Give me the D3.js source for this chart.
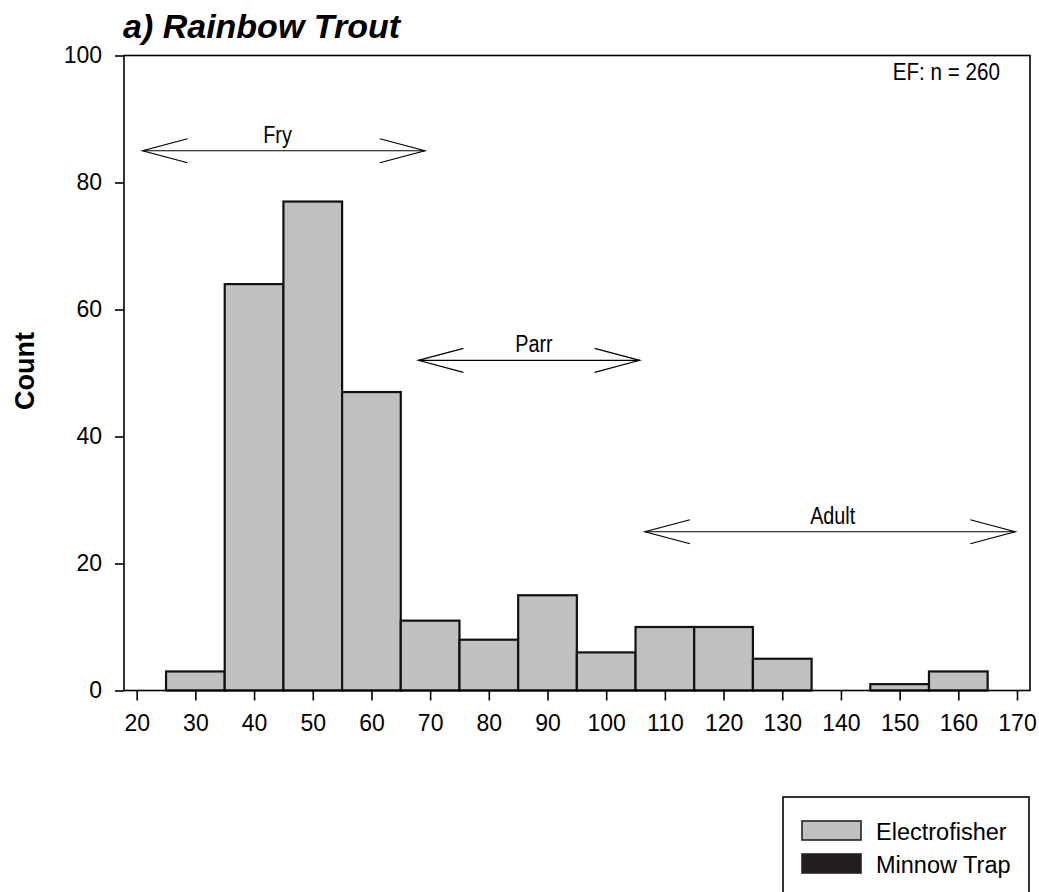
<!DOCTYPE html>
<html>
<head>
<meta charset="utf-8">
<script src="https://cdn.jsdelivr.net/npm/d3@7"></script>
<style>
  html, body { margin: 0; padding: 0; background: #ffffff; }
  svg { display: block; }
</style>
</head>
<body>
<svg id="chart" width="1039" height="892"></svg>
<script>
// ---- data ----
const binStarts = [25, 35, 45, 55, 65, 75, 85, 95, 105, 115, 125, 135, 145, 155];
const binWidth = 10;
const electrofisher = [3, 64, 77, 47, 11, 8, 15, 6, 10, 10, 5, 0, 1, 3];
const minnowTrap = [0, 0, 0, 0, 0, 0, 0, 0, 0, 0, 0, 0, 0, 0];
const xTicks = [20, 30, 40, 50, 60, 70, 80, 90, 100, 110, 120, 130, 140, 150, 160, 170];
const yTicks = [0, 20, 40, 60, 80, 100];
const stageLabels = ["Fry", "Parr", "Adult"];
const stageStart = [21, 68, 106.6];
const stageEnd = [69.1, 105.7, 169.7];
const stageCount = [85, 52, 25];
const stageLabelX = [44, 87.7, 138.6];
const titleText = "a) Rainbow Trout";
const yTitle = "Count";
const nText = "EF: n = 260";
const legendNames = ["Electrofisher", "Minnow Trap"];
const legendColors = ["#c0c0c0", "#231f20"];

// ---- layout ----
const svg = d3.select("#chart");
const FONT = "'Liberation Sans', Arial, Helvetica, sans-serif";
const frame = { left: 124, right: 1030, top: 55.5, bottom: 690.5 };
const NARROW_SCALE = 0.86;

const x = d3.scaleLinear().domain([20, 170]).range([136.7, 1017]);
const y = d3.scaleLinear().domain([0, 100]).range([frame.bottom, frame.top]);

// bars
const barData = binStarts.map((s, i) => ({ s, ef: electrofisher[i], mt: minnowTrap[i] }));
svg.append("g").selectAll("rect.ef")
  .data(barData.filter(d => d.ef > 0))
  .join("rect")
  .attr("x", d => x(d.s))
  .attr("y", d => y(d.ef))
  .attr("width", d => x(d.s + binWidth) - x(d.s))
  .attr("height", d => y(0) - y(d.ef))
  .attr("fill", legendColors[0])
  .attr("stroke", "#111")
  .attr("stroke-width", 2.2);

svg.append("g").selectAll("rect.mt")
  .data(barData.filter(d => d.mt > 0))
  .join("rect")
  .attr("x", d => x(d.s))
  .attr("y", d => y(d.mt))
  .attr("width", d => x(d.s + binWidth) - x(d.s))
  .attr("height", d => y(0) - y(d.mt))
  .attr("fill", legendColors[1])
  .attr("stroke", "#111")
  .attr("stroke-width", 2.2);

// frame
svg.append("rect")
  .attr("x", frame.left).attr("y", frame.top)
  .attr("width", frame.right - frame.left).attr("height", frame.bottom - frame.top)
  .attr("fill", "none").attr("stroke", "#000").attr("stroke-width", 1.6);

// axes
const xAxis = d3.axisBottom(x).tickValues(xTicks).tickSize(10).tickPadding(14).tickSizeOuter(0);
const gx = svg.append("g").attr("transform", `translate(0,${frame.bottom})`).call(xAxis);
gx.select(".domain").remove();
gx.selectAll("line").attr("stroke", "#000").attr("stroke-width", 1.6);
gx.selectAll("text").attr("font-family", FONT).attr("font-size", 23).attr("fill", "#000");

const yAxis = d3.axisLeft(y).tickValues(yTicks).tickSize(9).tickPadding(13).tickSizeOuter(0);
const gy = svg.append("g").attr("transform", `translate(${frame.left},0)`).call(yAxis);
gy.select(".domain").remove();
gy.selectAll("line").attr("stroke", "#000").attr("stroke-width", 1.6);
gy.selectAll("text").attr("font-family", FONT).attr("font-size", 23).attr("fill", "#000");

// title
svg.append("text")
  .attr("x", 123).attr("y", 38)
  .attr("font-family", FONT).attr("font-size", 34).attr("font-weight", "bold").attr("font-style", "italic")
  .text(titleText);

// y title
svg.append("text")
  .attr("transform", `translate(34,371) rotate(-90)`)
  .attr("text-anchor", "middle")
  .attr("font-family", FONT).attr("font-size", 27).attr("font-weight", "bold")
  .text(yTitle);

// n text (condensed)
svg.append("text")
  .attr("transform", `translate(1000,80) scale(${NARROW_SCALE},1)`)
  .attr("text-anchor", "end")
  .attr("font-family", FONT).attr("font-size", 24)
  .text(nText);

// stage arrows
const headLen = 45, headHalf = 12;
stageLabels.forEach((lab, i) => {
  const x0 = x(stageStart[i]), x1 = x(stageEnd[i]), yy = y(stageCount[i]);
  const g = svg.append("g").attr("stroke", "#000").attr("stroke-width", 1.2).attr("fill", "none");
  g.append("line").attr("x1", x0).attr("x2", x1).attr("y1", yy).attr("y2", yy);
  g.append("path").attr("d", `M${x0 + headLen},${yy - headHalf} L${x0},${yy} L${x0 + headLen},${yy + headHalf}`);
  g.append("path").attr("d", `M${x1 - headLen},${yy - headHalf} L${x1},${yy} L${x1 - headLen},${yy + headHalf}`);
  svg.append("text")
    .attr("transform", `translate(${x(stageLabelX[i])},${yy - 8}) scale(${NARROW_SCALE},1)`)
    .attr("text-anchor", "middle")
    .attr("font-family", FONT).attr("font-size", 23)
    .text(lab);
});

// legend
svg.append("rect")
  .attr("x", 783).attr("y", 797).attr("width", 246).attr("height", 120)
  .attr("fill", "#fff").attr("stroke", "#000").attr("stroke-width", 1.6);
legendNames.forEach((name, i) => {
  const top = 821 + i * 33;
  svg.append("rect")
    .attr("x", 802).attr("y", top).attr("width", 59).attr("height", 19)
    .attr("fill", legendColors[i]).attr("stroke", "#222").attr("stroke-width", 1.6);
  svg.append("text")
    .attr("x", 876).attr("y", top + 19)
    .attr("font-family", FONT).attr("font-size", 23.5)
    .text(name);
});
</script>
</body>
</html>
